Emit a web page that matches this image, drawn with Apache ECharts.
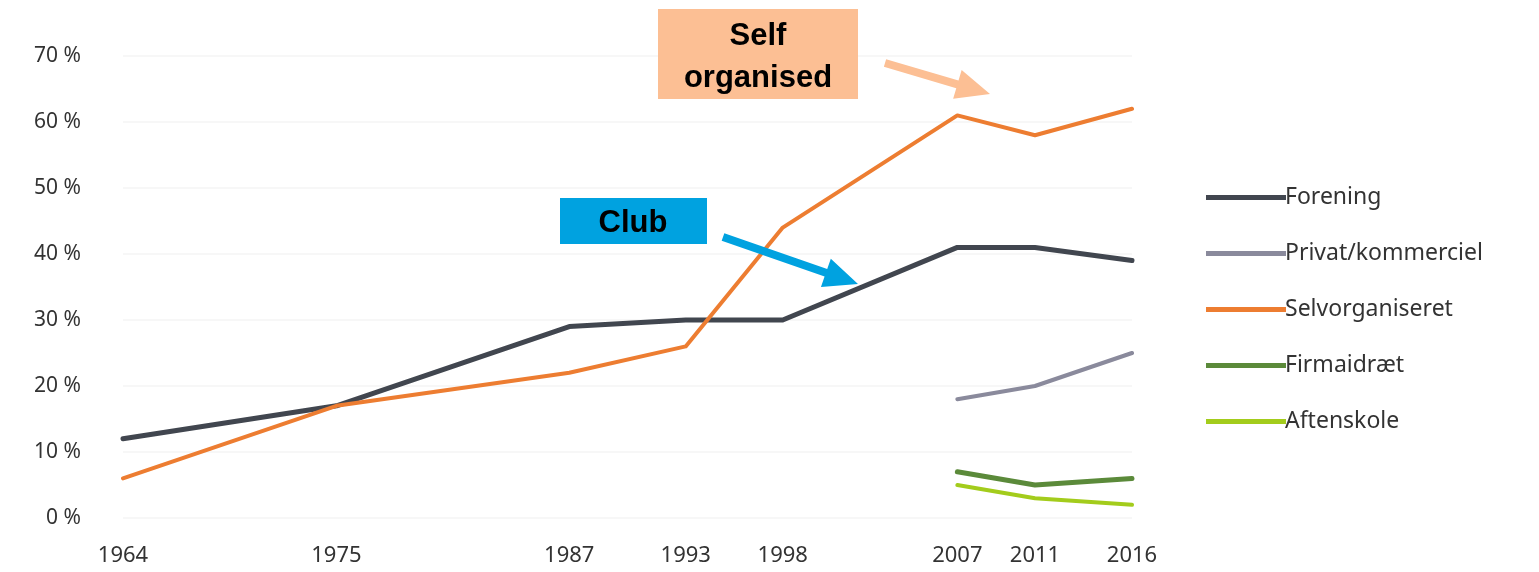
<!DOCTYPE html>
<html>
<head>
<meta charset="utf-8">
<script src="https://cdn.jsdelivr.net/npm/echarts@6/dist/echarts.min.js"></script>
<style>
  html, body { margin: 0; padding: 0; background: #fff; }
  #chart { width: 1539px; height: 572px; }
</style>
</head>
<body>
<div id="chart"></div>
<script>
  // år og andele (%)
  var years = [1964, 1975, 1987, 1993, 1998, 2007, 2011, 2016];
  var forening = [12, 17, 29, 30, 30, 41, 41, 39];
  var selvorg = [6, 17, 22, 26, 44, 61, 58, 62];
  var privYears = [2007, 2011, 2016];
  var privat = [18, 20, 25];
  var firma = [7, 5, 6];
  var aftenskole = [5, 3, 2];
  var yTicks = [0, 10, 20, 30, 40, 50, 60, 70];

  function pairs(xs, ys) {
    return xs.map(function (x, i) { return [x, ys[i]]; });
  }

  // pil som polygon (kun pynt)
  function arrow(x1, y1, x2, y2, shaft, headLen, headW) {
    var dx = x2 - x1, dy = y2 - y1;
    var len = Math.sqrt(dx * dx + dy * dy);
    var ux = dx / len, uy = dy / len, nx = -uy, ny = ux;
    var bx = x2 - ux * headLen, by = y2 - uy * headLen;
    return [
      [x1 + nx * shaft / 2, y1 + ny * shaft / 2],
      [bx + nx * shaft / 2, by + ny * shaft / 2],
      [bx + nx * headW / 2, by + ny * headW / 2],
      [x2, y2],
      [bx - nx * headW / 2, by - ny * headW / 2],
      [bx - nx * shaft / 2, by - ny * shaft / 2],
      [x1 - nx * shaft / 2, y1 - ny * shaft / 2]
    ];
  }

  var font = 'Noto Sans';
  var chart = echarts.init(document.getElementById('chart'));

  var option = {
    backgroundColor: '#fff',
    animation: false,
    grid: { left: 123, right: 407, top: 56, bottom: 54, containLabel: false },
    legend: {
      orient: 'vertical',
      left: 1201,
      top: 181,
      icon: 'rect',
      itemWidth: 80,
      itemHeight: 5,
      itemGap: 33,
      textStyle: { fontFamily: font, fontSize: 23, color: '#333', padding: [0, 0, 0, -6] },
      data: ['Forening', 'Privat/kommerciel', 'Selvorganiseret', 'Firmaidræt', 'Aftenskole']
    },
    xAxis: {
      type: 'value',
      min: 1964,
      max: 2016,
      axisLine: { show: false },
      axisTick: { show: false },
      splitLine: { show: false },
      axisLabel: {
        customValues: years,
        fontFamily: font,
        fontSize: 22,
        color: '#333',
        margin: 27,
        formatter: function (v) { return String(v); }
      }
    },
    yAxis: {
      type: 'value',
      min: 0,
      max: 70,
      interval: 10,
      axisLine: { show: false },
      axisTick: { show: false },
      splitLine: { show: true, lineStyle: { color: '#f7f7f7', width: 2 } },
      axisLabel: {
        customValues: yTicks,
        fontFamily: font,
        fontSize: 21,
        color: '#333',
        margin: 42,
        formatter: '{value} %'
      }
    },
    series: [
      {
        name: 'Forening', type: 'line', showSymbol: false, symbol: 'none',
        lineStyle: { width: 5, color: '#41464f', join: 'round', cap: 'round' },
        itemStyle: { color: '#41464f' },
        data: pairs(years, forening), z: 3
      },
      {
        name: 'Privat/kommerciel', type: 'line', showSymbol: false, symbol: 'none',
        lineStyle: { width: 4, color: '#8a8a9c', join: 'round', cap: 'round' },
        itemStyle: { color: '#8a8a9c' },
        data: pairs(privYears, privat)
      },
      {
        name: 'Selvorganiseret', type: 'line', showSymbol: false, symbol: 'none',
        lineStyle: { width: 4, color: '#ed7d31', join: 'round', cap: 'round' },
        itemStyle: { color: '#ed7d31' },
        data: pairs(years, selvorg), z: 4
      },
      {
        name: 'Firmaidræt', type: 'line', showSymbol: false, symbol: 'none',
        lineStyle: { width: 5, color: '#5b8a3a', join: 'round', cap: 'round' },
        itemStyle: { color: '#5b8a3a' },
        data: pairs(privYears, firma)
      },
      {
        name: 'Aftenskole', type: 'line', showSymbol: false, symbol: 'none',
        lineStyle: { width: 4, color: '#a3cc1c', join: 'round', cap: 'round' },
        itemStyle: { color: '#a3cc1c' },
        data: pairs(privYears, aftenskole)
      }
    ],
    graphic: [
      {
        type: 'rect', z: 100,
        shape: { x: 658, y: 9, width: 200, height: 90 },
        style: { fill: '#fcbf94' }
      },
      {
        type: 'text', z: 101, x: 758, y: 57,
        style: {
          text: 'Self\norganised', fill: '#000', align: 'center', verticalAlign: 'middle',
          font: 'bold 31px "Liberation Sans", Arial, sans-serif', lineHeight: 42
        }
      },
      {
        type: 'polygon', z: 100,
        shape: { points: arrow(885, 63, 990, 94, 8, 34, 30) },
        style: { fill: '#fcbf94' }
      },
      {
        type: 'rect', z: 100,
        shape: { x: 560, y: 198, width: 147, height: 46 },
        style: { fill: '#00a2e0' }
      },
      {
        type: 'text', z: 101, x: 633, y: 223,
        style: {
          text: 'Club', fill: '#000', align: 'center', verticalAlign: 'middle',
          font: 'bold 31px "Liberation Sans", Arial, sans-serif'
        }
      },
      {
        type: 'polygon', z: 100,
        shape: { points: arrow(723, 237, 858, 284, 8, 34, 30) },
        style: { fill: '#00a2e0' }
      }
    ]
  };

  chart.setOption(option);
</script>
</body>
</html>
